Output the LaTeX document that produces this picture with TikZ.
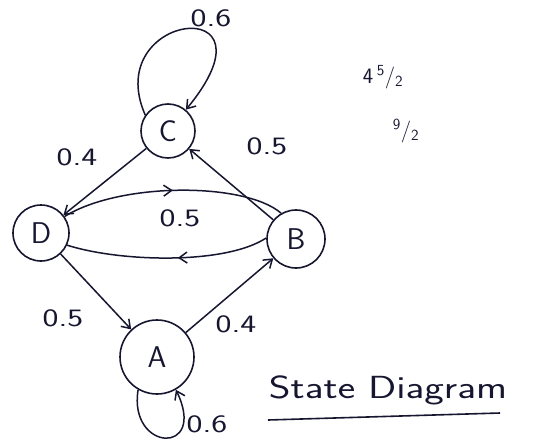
\documentclass[tikz,border=0pt]{standalone}
\usetikzlibrary{arrows.meta,decorations.markings}
\definecolor{ink}{RGB}{22,22,48}
\begin{document}
\begin{tikzpicture}[x=1pt,y=-1pt,
  state/.style={circle, draw=ink, line width=1.6pt, inner sep=0pt, text=ink,
                font=\sffamily\fontsize{30}{30}\selectfont},
  tip/.tip={Straight Barb[length=8pt,width=11pt,line width=1.5pt]},
  edge/.style={draw=ink, line width=1.5pt, -tip},
  curve/.style={draw=ink, line width=1.5pt},
  midarrow/.style={postaction={decorate},
    decoration={markings, mark=at position #1 with {\arrow{tip}}}},
  lbl/.style={text=ink, font=\sffamily\fontsize{25}{25}\selectfont},
  note/.style={text=ink, font=\sffamily\fontsize{22}{22}\selectfont}]
\useasboundingbox (0,0) rectangle (559,444);
\fill[white] (0,0) rectangle (559,444);

% states
\node[state, minimum size=54pt] (C) at (168,131) {C};
\node[state, minimum size=56pt] (D) at (41,233) {D};
\node[state, minimum size=58pt] (B) at (296,239) {B};
\node[state, minimum size=74pt] (A) at (157,357) {A};

% transitions
\draw[edge] (C) -- (D);
\draw[edge] (B) -- (C);
\draw[edge] (D) -- (A);
\draw[edge] (A) -- (B);
\draw[curve, midarrow=0.5] (D.35) .. controls (120,182) and (245,182) .. (B.120);
\draw[curve, midarrow=0.45] (B.178) .. controls (225,265) and (120,262) .. (D.-25);

% self loops
\draw[edge] (C.145) .. controls (100,12) and (285,-10) .. (C.50);
\draw[edge] (A.240) .. controls (128,452) and (208,456) .. (A.-60);

% probabilities
\node[lbl] (pCC) at (211,18) {\scalebox{1.35}[1]{0.6}};
\node[lbl] (pCD) at (77,157) {\scalebox{1.35}[1]{0.4}};
\node[lbl] (pBC) at (267,146) {\scalebox{1.35}[1]{0.5}};
\node[lbl] (pDB) at (180,218) {\scalebox{1.35}[1]{0.5}};
\node[lbl] (pDA) at (63,318) {\scalebox{1.35}[1]{0.5}};
\node[lbl] (pAB) at (236,324) {\scalebox{1.35}[1]{0.4}};
\node[lbl] (pAA) at (207,424) {\scalebox{1.35}[1]{0.6}};

% side notes
\node[note] (n1) at (383,77) {4\,\textsuperscript{5}/\textsubscript{2}};
\node[note] (n2) at (406,131) {\textsuperscript{9}/\textsubscript{2}};

% caption
\node[text=ink, font=\sffamily\fontsize{32}{32}\selectfont] (title) at (388,390)
  {\scalebox{1.3}[1]{State Diagram}};
\coordinate (u1) at (268,420);
\coordinate (u2) at (500,413);
\draw[ink, line width=1.6pt] (u1) -- (u2);
\end{tikzpicture}
\end{document}
